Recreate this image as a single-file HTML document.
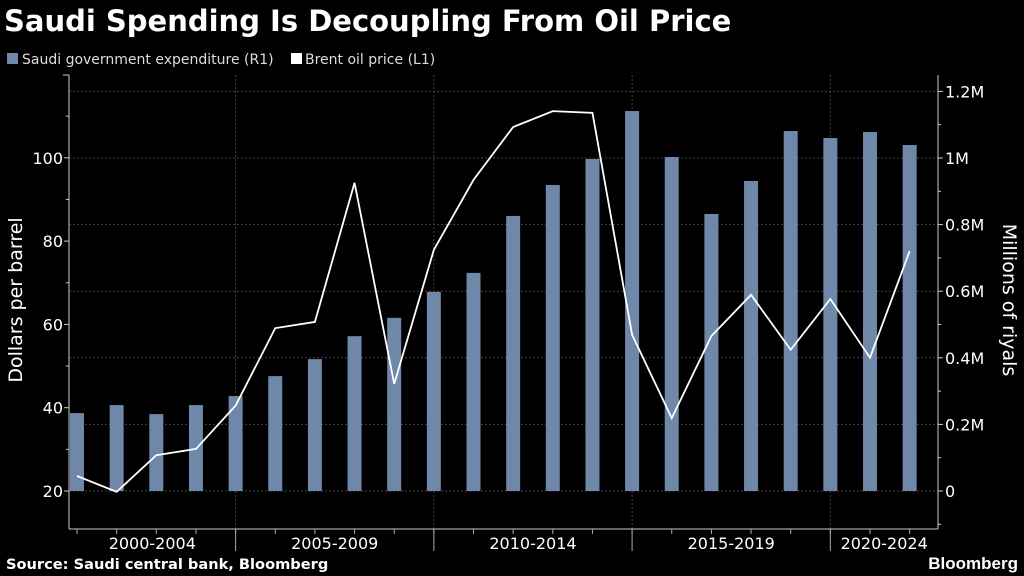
<!DOCTYPE html>
<html><head><meta charset="utf-8"><style>
html,body{margin:0;padding:0;background:#000;width:1024px;height:576px;overflow:hidden;font-family:"Liberation Sans","DejaVu Sans",sans-serif;}
</style></head><body>
<svg id="chart" width="1024" height="576" xmlns="http://www.w3.org/2000/svg">
<rect width="1024" height="576" fill="#000"/>
<text x="4" y="31" fill="#fff" font-size="29" font-weight="bold" font-family="DejaVu Sans, sans-serif">Saudi Spending Is Decoupling From Oil Price</text>
<g>
<rect x="7" y="53" width="11" height="11" fill="#6f87a8"/>
<text x="22" y="64" fill="#ddd" font-size="14" font-family="DejaVu Sans, sans-serif">Saudi government expenditure (R1)</text>
<rect x="291" y="53" width="11" height="11" fill="#fff"/>
<text x="305" y="64" fill="#ddd" font-size="14" font-family="DejaVu Sans, sans-serif">Brent oil price (L1)</text>
</g>
<g id="grid"></g><g id="bars"></g><g id="line"></g><g id="axes"></g>
<text transform="translate(22,300) rotate(-90)" text-anchor="middle" fill="#fff" font-size="19" font-family="DejaVu Sans, sans-serif">Dollars per barrel</text>
<text transform="translate(1003,300) rotate(90)" text-anchor="middle" fill="#fff" font-size="19" font-family="DejaVu Sans, sans-serif">Millions of riyals</text>
<text x="6" y="569" fill="#fff" font-size="14.6" font-weight="bold" font-family="DejaVu Sans, sans-serif">Source: Saudi central bank, Bloomberg</text>
<text x="1018" y="569" text-anchor="end" fill="#fff" font-size="17" font-weight="bold">Bloomberg</text>
</svg>
<script>
const years = [2001,2002,2003,2004,2005,2006,2007,2008,2009,2010,2011,2012,2013,2014,2015,2016,2017,2018,2019,2020,2021,2022];
const expenditure = [0.234,0.258,0.231,0.258,0.285,0.345,0.396,0.465,0.52,0.598,0.655,0.826,0.919,0.997,1.141,1.003,0.832,0.931,1.081,1.06,1.078,1.039];
const brent = [23.6,19.8,28.6,30.1,40.5,59.1,60.6,94.0,45.7,77.9,94.7,107.4,111.2,110.8,57.5,37.5,57.2,67.1,53.9,66.1,52.0,77.6];
const leftTicks = [20,40,60,80,100];
const rightTicks = [0,0.2,0.4,0.6,0.8,1.0,1.2];
const rightTickLabels = ["0","0.2M","0.4M","0.6M","0.8M","1M","1.2M"];
const periodLabels = ["2000-2004","2005-2009","2010-2014","2015-2019","2020-2024"];
const periodBounds = [2000,2005,2010,2015,2020,2025];

const NS="http://www.w3.org/2000/svg";
const X0=69,X1=938,Y0=529,Y1=75;
const xPer=39.65;
const x = yr => 77 + (yr-2001)*xPer;
const yL = v => 491 - (v-20)*83.3/20;
const yR = v => 491 - v*333;
function mk(p,tag,a){const e=document.createElementNS(NS,tag);for(const k in a)e.setAttribute(k,a[k]);document.getElementById(p).appendChild(e);return e;}

rightTicks.forEach((t,i)=>{
  const g=mk('grid','line',{x1:X0,x2:X1,y1:yR(t),y2:yR(t),stroke:'#444','stroke-dasharray':'2,2','stroke-width':1});
  
  
});
periodBounds.slice(1,5).forEach(b=>{
  const g=mk('grid','line',{x1:x(b),x2:x(b),y1:Y1,y2:Y0,stroke:'#444','stroke-dasharray':'2,2','stroke-width':1});
  
  
});
years.forEach((yr,i)=>{
  const top=yR(expenditure[i]);
  const b=mk('bars','rect',{x:x(yr)-7,y:top,width:14,height:yR(0)-top,fill:'#6f87a8'});
  
  
});
const pts=years.map((yr,i)=>x(yr)+','+yL(brent[i])).join(' ');
const pl=mk('line','polyline',{points:pts,fill:'none',stroke:'#fff','stroke-width':1.8,'stroke-linejoin':'miter'});


const ax=[[X0,Y1,X0,Y0],[X0,Y0,X1,Y0],[X1,Y1,X1,Y0]];
ax.forEach(a=>{const l=mk('axes','line',{x1:a[0],y1:a[1],x2:a[2],y2:a[3],stroke:'#ccc','stroke-width':1});
  
  });
mk('axes','line',{x1:X0-6,y1:Y1,x2:X0,y2:Y1,stroke:'#ccc'});
leftTicks.forEach(t=>{
  mk('axes','line',{x1:X0-5,x2:X0,y1:yL(t),y2:yL(t),stroke:'#ccc'});
  mk('axes','line',{x1:X0-3,x2:X0,y1:yL(t+10),y2:yL(t+10),stroke:'#ccc'});
  const tx=mk('axes','text',{x:X0-6,y:yL(t)+6,'text-anchor':'end',fill:'#fff','font-size':16,'font-family':'DejaVu Sans, sans-serif'});
  tx.textContent=t;
  
  
});
rightTicks.forEach((t,i)=>{
  mk('axes','line',{x1:X1,x2:X1+5,y1:yR(t),y2:yR(t),stroke:'#ccc'});
  mk('axes','line',{x1:X1,x2:X1+3,y1:yR(t-0.1),y2:yR(t-0.1),stroke:'#ccc'});
  const tx=mk('axes','text',{x:X1+7,y:yR(t)+6,fill:'#fff','font-size':16,'font-family':'DejaVu Sans, sans-serif'});
  tx.textContent=rightTickLabels[i];
  
  
});
years.forEach(yr=>{mk('axes','line',{x1:x(yr),x2:x(yr),y1:Y0,y2:Y0+5,stroke:'#aaa'});});
periodBounds.slice(1,5).forEach(b=>{mk('axes','line',{x1:x(b),x2:x(b),y1:Y0,y2:Y0+22,stroke:'#aaa'});});
periodLabels.forEach((lab,i)=>{
  const a=Math.max(x(periodBounds[i]),X0), b=Math.min(x(periodBounds[i+1]),X1);
  const tx=mk('axes','text',{x:(a+b)/2,y:Y0+20,'text-anchor':'middle',fill:'#fff','font-size':16,'font-family':'DejaVu Sans, sans-serif'});
  tx.textContent=lab;
  
  
});
</script>
</body></html>
